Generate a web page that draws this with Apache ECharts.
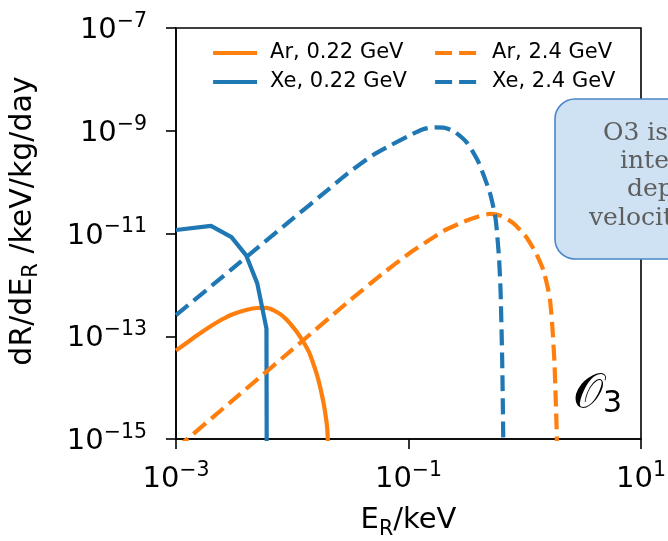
<!DOCTYPE html>
<html>
<head>
<meta charset="utf-8">
<script src="https://cdn.jsdelivr.net/npm/echarts@6/dist/echarts.min.js"></script>
<style>
  html, body { margin: 0; padding: 0; background: #fff; }
  #chart { width: 668px; height: 541px; }
</style>
</head>
<body>
<div id="chart"></div>
<script>
// Differential recoil rates for the O3 operator (energies in keV, rates in /keV/kg/day)
const arLightE = [0.001, 0.0015, 0.002, 0.0025, 0.003, 0.004, 0.005, 0.006, 0.007, 0.008, 0.009,
  0.010, 0.011, 0.012, 0.013, 0.014, 0.015, 0.016, 0.017, 0.018, 0.019, 0.020, 0.0204];
const arLightRate = [5.25e-14, 1.02e-13, 1.58e-13, 2.14e-13, 2.63e-13, 3.24e-13, 3.55e-13, 3.56e-13, 3.16e-13, 2.63e-13, 2.07e-13,
  1.58e-13, 1.20e-13, 8.9e-14, 6.6e-14, 4.8e-14, 3.16e-14, 2.04e-14, 1.26e-14, 7.2e-15, 3.8e-15, 1.6e-15, 5e-16];

const xeLightE = [0.001, 0.002, 0.003, 0.004, 0.005, 0.006, 0.00605];
const xeLightRate = [1.17e-11, 1.41e-11, 8.5e-12, 3.8e-12, 1.07e-12, 1.41e-13, 1e-17];

const arHeavyE = [0.001, 0.003, 0.01, 0.03, 0.06, 0.1, 0.15, 0.2, 0.3, 0.4, 0.5, 0.63,
  0.8, 1.0, 1.1, 1.26, 1.45, 1.6, 1.65, 1.72, 1.8, 1.88, 1.9];
const arHeavyRate = [6.5e-16, 5.4e-15, 5.5e-14, 4.6e-13, 1.66e-12, 4.0e-12, 7.4e-12, 1.12e-11, 1.70e-11, 2.14e-11, 2.4e-11, 2.19e-11,
  1.58e-11, 9.3e-12, 6.8e-12, 4.0e-12, 1.9e-12, 7.6e-13, 5.1e-13, 1.78e-13, 3.2e-14, 1.6e-15, 4.0e-16];

const xeHeavyE = [0.001, 0.003, 0.01, 0.02, 0.03, 0.05, 0.07, 0.1, 0.13, 0.16, 0.2, 0.25,
  0.32, 0.4, 0.5, 0.56, 0.6, 0.62, 0.64, 0.655];
const xeHeavyRate = [2.57e-13, 2.0e-12, 1.9e-11, 6.9e-11, 1.48e-10, 3.4e-10, 5.2e-10, 7.9e-10, 1.05e-9, 1.16e-9, 1.15e-9, 9.5e-10,
  5.75e-10, 2.45e-10, 6.3e-11, 2.0e-11, 3.5e-12, 7.1e-13, 3.2e-14, 6.3e-16];

const seriesNames = ['Ar, 0.22 GeV', 'Xe, 0.22 GeV', 'Ar, 2.4 GeV', 'Xe, 2.4 GeV'];

// decade exponents shown on the axes
const xTickPowers = [-3, -1, 1];
const yTickPowers = [-15, -13, -11, -9, -7];

const noteLines = ['O3 is a', 'interaction', 'dependent', 'velocity'];

const ORANGE = '#ff7f0e';
const BLUE = '#1f77b4';
const FONT = 'DejaVu Sans';
const DASH = [16, 7];
const LW = 4.2;

const zip = (xs, ys) => xs.map((x, i) => [x, ys[i]]);

function powLabel(v) {
  const p = Math.round(Math.log10(v));
  return '{b|10}{s|' + (p < 0 ? '\u2212' : '') + Math.abs(p) + '}';
}

const powRich = {
  b: { fontFamily: FONT, fontSize: 29, lineHeight: 34, verticalAlign: 'bottom', color: '#000' },
  s: { fontFamily: FONT, fontSize: 20.5, lineHeight: 20, verticalAlign: 'top', color: '#000' }
};

function lineSeries(name, xs, ys, color, dashed, smooth) {
  return {
    name: name,
    type: 'line',
    data: zip(xs, ys),
    showSymbol: false,
    symbol: 'none',
    smooth: smooth,
    clip: true,
    animation: false,
    lineStyle: { color: color, width: LW, type: dashed ? DASH : 'solid', cap: 'butt' },
    itemStyle: { color: color }
  };
}

const legendSlots = [
  { left: 211, top: 42, dashed: false },
  { left: 211, top: 71, dashed: false },
  { left: 433, top: 42, dashed: true },
  { left: 433, top: 71, dashed: true }
];

const chart = echarts.init(document.getElementById('chart'), null, { renderer: 'canvas' });

chart.setOption({
  animation: false,
  grid: {
    left: 176, top: 28, width: 465, height: 411,
    containLabel: false, outerBoundsMode: 'none',
    show: true, borderColor: '#000', borderWidth: 1.6, backgroundColor: 'transparent'
  },
  xAxis: {
    type: 'log', logBase: 10,
    min: Math.pow(10, xTickPowers[0]),
    max: Math.pow(10, xTickPowers[xTickPowers.length - 1]),
    interval: xTickPowers[1] - xTickPowers[0],
    splitLine: { show: false },
    minorTick: { show: false },
    axisLine: { lineStyle: { color: '#000', width: 1.6 } },
    axisTick: { show: true, length: 10, lineStyle: { color: '#000', width: 1.6 } },
    axisLabel: { margin: 21, formatter: powLabel, rich: powRich },
    name: '{n|E}{r|R}{n|/keV}',
    nameLocation: 'middle',
    nameGap: 67,
    nameTextStyle: {
      rich: {
        n: { fontFamily: FONT, fontSize: 29, lineHeight: 34, verticalAlign: 'top', color: '#000' },
        r: { fontFamily: FONT, fontSize: 20.5, lineHeight: 14, verticalAlign: 'bottom', color: '#000' }
      }
    }
  },
  yAxis: {
    type: 'log', logBase: 10,
    min: Math.pow(10, yTickPowers[0]),
    max: Math.pow(10, yTickPowers[yTickPowers.length - 1]),
    interval: yTickPowers[1] - yTickPowers[0],
    splitLine: { show: false },
    minorTick: { show: false },
    axisLine: { lineStyle: { color: '#000', width: 1.6 } },
    axisTick: { show: true, length: 10, lineStyle: { color: '#000', width: 1.6 } },
    axisLabel: { margin: 29, formatter: powLabel, rich: powRich }
  },
  legend: seriesNames.map((nm, i) => ({
    data: [nm],
    left: legendSlots[i].left,
    top: legendSlots[i].top,
    padding: 0,
    itemWidth: 44,
    itemHeight: 22,
    itemGap: 0,
    selectedMode: false,
    itemStyle: { color: 'rgba(0,0,0,0)', borderColor: 'rgba(0,0,0,0)', borderWidth: 0, opacity: 0 },
    lineStyle: { width: LW, type: legendSlots[i].dashed ? [17, 7] : 'solid', cap: 'butt' },
    textStyle: { fontFamily: FONT, fontSize: 21, lineHeight: 22, color: '#000', padding: [0, 0, 0, 8] }
  })),
  series: [
    lineSeries(seriesNames[0], arLightE, arLightRate, ORANGE, false, 0.2),
    lineSeries(seriesNames[1], xeLightE, xeLightRate, BLUE, false, false),
    lineSeries(seriesNames[2], arHeavyE, arHeavyRate, ORANGE, true, 0.2),
    lineSeries(seriesNames[3], xeHeavyE, xeHeavyRate, BLUE, true, 0.2)
  ],
  graphic: [
    {
      type: 'text', x: 25, y: 221, rotation: Math.PI / 2, silent: true,
      style: {
        text: '{n|dR/dE}{r|R}{n| /keV/kg/day}',
        align: 'center', verticalAlign: 'middle',
        rich: {
          n: { fontFamily: FONT, fontSize: 30, lineHeight: 34, verticalAlign: 'top', fill: '#000' },
          r: { fontFamily: FONT, fontSize: 21, lineHeight: 14, verticalAlign: 'bottom', fill: '#000' }
        }
      }
    },
    {
      type: 'text', x: 573, y: 395, silent: true,
      style: {
        text: '{o|\u{1D4AA}}{t|3}',
        align: 'left', verticalAlign: 'middle',
        rich: {
          o: { fontFamily: 'DejaVu Serif', fontSize: 48, lineHeight: 48, verticalAlign: 'top', fill: '#000' },
          t: { fontFamily: FONT, fontSize: 30, lineHeight: 28, verticalAlign: 'bottom', fill: '#000' }
        }
      }
    },
    {
      type: 'rect', silent: true,
      shape: { x: 555, y: 99, width: 170, height: 160, r: 20 },
      style: { fill: '#cfe2f3', stroke: '#4a86c8', lineWidth: 1.6 }
    },
    ...noteLines.map((t, i) => ({
      type: 'text', silent: true,
      x: [603, 620, 627, 589][i], y: 133 + i * 28.4,
      style: { text: t, fontFamily: 'DejaVu Serif', fontSize: 25, fill: '#5e5e5e', align: 'left', verticalAlign: 'middle' }
    }))
  ]
});
</script>
</body>
</html>
